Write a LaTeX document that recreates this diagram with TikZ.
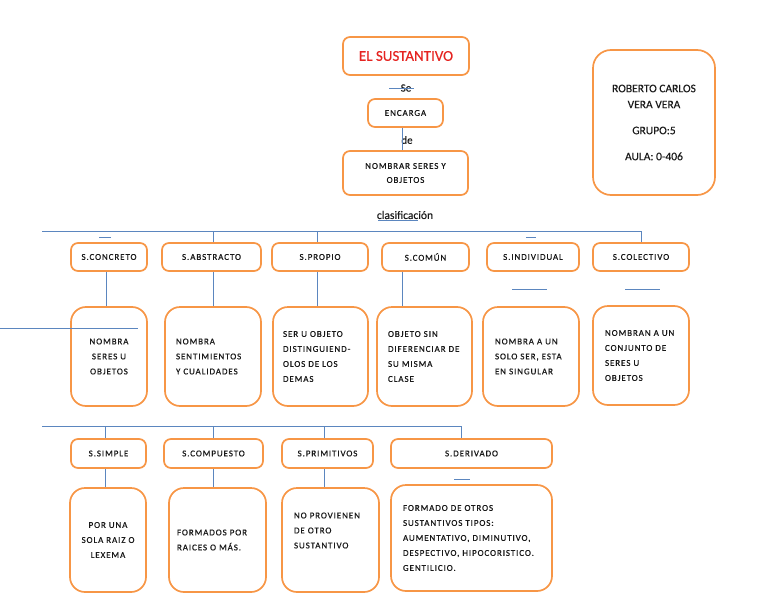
\documentclass[tikz,border=0pt]{standalone}
\usepackage{fontspec}
\setmainfont{Carlito}
\newfontfamily\spacedfont[LetterSpace=10,FakeBold=0.5]{Carlito}
\newfontfamily\plainfont[FakeBold=0.3]{Carlito}
\usepackage{tikz}
\usetikzlibrary{positioning,calc}
\definecolor{ORANGE}{HTML}{F79646}
\definecolor{BLUE}{HTML}{5B86BF}
\definecolor{TITLERED}{HTML}{E52421}
\tikzstyle{BOX} = [rectangle, draw=ORANGE, line width=1.7pt, rounded corners=7pt, inner sep=0pt, align=center, text=black!90, font=\spacedfont\fontsize{9}{15}\selectfont]
\tikzstyle{LINE} = [draw=BLUE, line width=0.9pt]

\begin{document}
\begin{tikzpicture}[x=1pt, y=-1pt]
% Define
\tikzstyle{TITLE} = [BOX, minimum width=126pt, minimum height=38pt, text=TITLERED, font=\plainfont\fontsize{15}{18}\selectfont]
\tikzstyle{WORD} = [inner sep=0pt, text=black!90, font=\plainfont\fontsize{11}{13}\selectfont]
\tikzstyle{TAG} = [BOX, minimum height=28pt]
\tikzstyle{CARD} = [BOX, rounded corners=15pt, minimum height=99pt]
\tikzstyle{CARD_LOW} = [BOX, rounded corners=15pt, minimum height=104pt]
\useasboundingbox (0,0) rectangle (768,594);
% Place nodes
\node [TITLE] (titulo) at (406,56) {EL SUSTANTIVO};
\node [WORD] (se) at (406,88) {Se};
\node [TAG, minimum width=75pt] (encarga) at (405.5,113) {ENCARGA};
\node [WORD] (de) at (407,140) {de};
\node [BOX, minimum width=125pt, minimum height=44pt, font=\spacedfont\fontsize{9}{14}\selectfont] (nombrar) at (405.5,173) {NOMBRAR SERES Y\\OBJETOS};
\node [WORD, font=\plainfont\fontsize{11.5}{13}\selectfont] (clasif) at (405,215) {clasificación};
\node [BOX, rounded corners=18pt, minimum width=122pt, minimum height=145pt, font=\plainfont\fontsize{11.5}{16}\selectfont] (autor) at (654,122.5) {ROBERTO CARLOS\\VERA VERA\\[10pt]GRUPO:5\\[10pt]AULA: 0-406};
% first row
\node [TAG, minimum width=76pt] (concreto) at (109,257) {S.CONCRETO};
\node [TAG, minimum width=99pt] (abstracto) at (211.5,257) {S.ABSTRACTO};
\node [TAG, minimum width=96pt] (propio) at (320,257) {S.PROPIO};
\node [TAG, minimum width=87pt] (comun) at (425.5,257) {S.COMÚN};
\node [TAG, minimum width=92pt] (individual) at (533,257) {S.INDIVIDUAL};
\node [TAG, minimum width=96pt] (colectivo) at (641,257) {S.COLECTIVO};
\node [CARD, minimum width=76pt] (d_concreto) at (109,356.5) {NOMBRA\\SERES U\\OBJETOS};
\node [CARD, minimum width=96pt, text width=74pt, align=left] (d_abstracto) at (213,356.5) {NOMBRA\\SENTIMIENTOS\\Y CUALIDADES};
\node [CARD, minimum width=95pt, text width=75pt, align=left] (d_propio) at (320.5,356.5) {SER U OBJETO\\DISTINGUIEND-\\OLOS DE LOS\\DEMAS};
\node [CARD, minimum width=95pt, text width=73pt, align=left] (d_comun) at (424.5,356.5) {OBJETO SIN\\DIFERENCIAR DE\\SU MISMA\\CLASE};
\node [CARD, minimum width=96pt, text width=72pt, align=left] (d_individual) at (531,356.5) {NOMBRA A UN\\SOLO SER, ESTA\\EN SINGULAR};
\node [CARD, minimum width=96pt, text width=72pt, align=left] (d_colectivo) at (641,355.5) {NOMBRAN A UN\\CONJUNTO DE\\SERES U\\OBJETOS};
% second row
\node [TAG, minimum width=75pt, minimum height=29pt] (simple) at (108.5,453.5) {S.SIMPLE};
\node [TAG, minimum width=99pt, minimum height=29pt] (compuesto) at (213.5,453.5) {S.COMPUESTO};
\node [TAG, minimum width=91pt, minimum height=29pt] (primitivos) at (327.5,453.5) {S.PRIMITIVOS};
\node [TAG, minimum width=161pt, minimum height=29pt] (derivado) at (471.5,453.5) {S.DERIVADO};
\node [CARD_LOW, minimum width=76pt] (d_simple) at (108,540) {POR UNA\\SOLA RAIZ O\\LEXEMA};
\node [CARD_LOW, minimum width=97pt, text width=81pt, align=left] (d_compuesto) at (217.5,540) {FORMADOS POR\\RAICES O MÁS.};
\node [CARD_LOW, minimum width=97pt, text width=73pt, align=left] (d_primitivos) at (330.5,540) {NO PROVIENEN\\DE OTRO\\SUSTANTIVO\\[4pt]~};
\node [CARD_LOW, minimum width=161pt, minimum height=106pt, text width=137pt, align=left] (d_derivado) at (471.5,538) {FORMADO DE OTROS\\SUSTANTIVOS TIPOS:\\AUMENTATIVO, DIMINUTIVO,\\DESPECTIVO, HIPOCORISTICO.\\GENTILICIO.};
\coordinate (bus1) at (42,231);
\coordinate (bus2) at (42,426);
\coordinate (stub) at (0,328);
% LINES
\path [LINE] ([xshift=-3.5pt]encarga.south) -- ([xshift=-3.5pt]nombrar.north);
\path [LINE] (bus1) -| (colectivo.north);
\path [LINE] ([xshift=1.5pt]abstracto.north) -- ([xshift=1.5pt]abstracto.north |- bus1);
\path [LINE] ([xshift=-3pt]propio.north) -- ([xshift=-3pt]propio.north |- bus1);
\path [LINE] ([xshift=-3pt]concreto.south) -- ([xshift=-3pt]concreto.south |- d_concreto.north);
\path [LINE] (d_abstracto.north) -- (d_abstracto.north |- abstracto.south);
\path [LINE] ([xshift=-3pt]propio.south) -- ([xshift=-3pt]propio.south |- d_propio.north);
\path [LINE] ([xshift=-23.5pt]comun.south) -- ([xshift=-23.5pt]comun.south |- d_comun.north);
\path [LINE] (stub) -- ++(138,0);
\path [LINE] (bus2) -| ([xshift=-10.5pt]derivado.north);
\path [LINE] ([xshift=-3.5pt]simple.north) -- ([xshift=-3.5pt]simple.north |- bus2);
\path [LINE] (compuesto.north) -- (compuesto.north |- bus2);
\path [LINE] ([xshift=-3.5pt]primitivos.north) -- ([xshift=-3.5pt]primitivos.north |- bus2);
\path [LINE] ([xshift=-3.5pt]simple.south) -- ([xshift=-3.5pt]simple.south |- d_simple.north);
\path [LINE] (compuesto.south) -- (compuesto.south |- d_compuesto.north);
\path [LINE] ([xshift=-3.5pt]primitivos.south) -- ([xshift=-3.5pt]primitivos.south |- d_primitivos.north);
% short strokes
\path [LINE] (389,88) -- (414,88);
\path [LINE] (378,220) -- (418,220);
\path [LINE] (99,237) -- (111,237);
\path [LINE] (526,237) -- (536,237);
\path [LINE] (512,289) -- (547,289);
\path [LINE] (625,289) -- (660,289);
\path [LINE] (454,479) -- (470,479);
\end{tikzpicture}
\end{document}
